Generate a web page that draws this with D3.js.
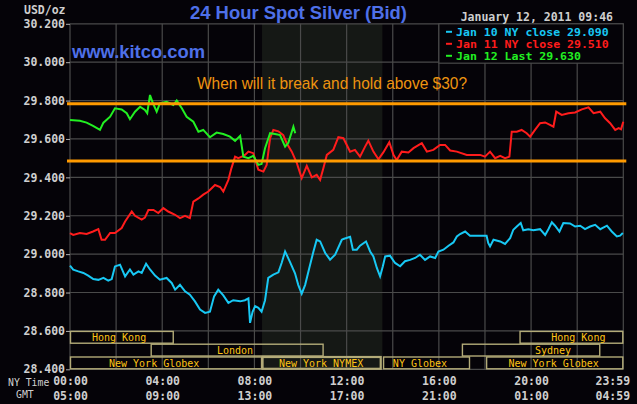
<!DOCTYPE html>
<html>
<head>
<meta charset="utf-8">
<script src="https://cdn.jsdelivr.net/npm/d3@7"></script>
<style>
  body { margin: 0; background: #050308; }
  svg { display: block; }
</style>
</head>
<body>
<div id="chart"></div>
<script>
// 24 hour spot silver (hours NY time / USD per oz)

var blueTime = [0, 0.14, 0.36, 0.58, 0.79, 1.01, 1.23, 1.45, 1.66, 1.81, 1.95, 2.17, 2.39, 2.6, 2.75, 2.97, 3.11, 3.3, 3.47, 3.69, 3.9, 4.19, 4.41, 4.56, 4.77, 4.99, 5.2, 5.42, 5.64, 5.86, 6.07, 6.25, 6.43, 6.65, 6.87, 7.08, 7.38, 7.59, 7.74, 7.81, 7.92, 8.03, 8.17, 8.31, 8.46, 8.6, 8.82, 9.04, 9.18, 9.33, 9.54, 9.76, 9.9, 10.05, 10.2, 10.38, 10.56, 10.7, 10.85, 11.07, 11.28, 11.5, 11.79, 11.86, 12.15, 12.27, 12.44, 12.58, 12.84, 13.02, 13.16, 13.31, 13.45, 13.57, 13.67, 13.88, 14.1, 14.32, 14.53, 14.75, 14.97, 15.18, 15.4, 15.62, 15.84, 15.98, 16.2, 16.42, 16.63, 16.78, 16.92, 17.14, 17.35, 17.64, 18.07, 18.14, 18.22, 18.37, 18.66, 18.87, 19.09, 19.23, 19.38, 19.55, 19.66, 19.88, 20.1, 20.39, 20.61, 20.75, 20.9, 21.04, 21.23, 21.4, 21.69, 21.91, 22.13, 22.34, 22.56, 22.78, 23.0, 23.29, 23.5, 23.72, 23.86, 23.98];
var blueValue = [28.94, 28.919, 28.91, 28.902, 28.888, 28.87, 28.866, 28.876, 28.862, 28.87, 28.936, 28.945, 28.884, 28.92, 28.893, 28.91, 28.902, 28.95, 28.92, 28.888, 28.867, 28.876, 28.85, 28.815, 28.84, 28.806, 28.789, 28.754, 28.711, 28.694, 28.7, 28.78, 28.815, 28.785, 28.746, 28.76, 28.754, 28.76, 28.77, 28.642, 28.7, 28.729, 28.72, 28.7, 28.76, 28.876, 28.893, 28.905, 28.954, 29.014, 28.96, 28.9, 28.84, 28.794, 28.84, 28.928, 29.014, 29.075, 29.066, 29.006, 28.971, 28.997, 29.075, 29.079, 29.09, 29.023, 29.023, 29.044, 29.066, 29.014, 28.988, 28.928, 28.884, 28.937, 28.988, 28.992, 28.954, 28.937, 28.963, 28.97, 28.98, 28.997, 28.97, 28.988, 28.98, 29.014, 29.023, 29.044, 29.061, 29.092, 29.105, 29.118, 29.096, 29.096, 29.096, 29.058, 29.04, 29.075, 29.066, 29.053, 29.083, 29.127, 29.144, 29.162, 29.124, 29.13, 29.124, 29.13, 29.1, 29.13, 29.166, 29.148, 29.118, 29.162, 29.16, 29.144, 29.148, 29.13, 29.144, 29.153, 29.13, 29.148, 29.118, 29.092, 29.096, 29.11];

var redTime = [0, 0.14, 0.43, 0.72, 1.0, 1.23, 1.37, 1.52, 1.74, 1.95, 2.24, 2.39, 2.68, 2.82, 3.11, 3.25, 3.4, 3.62, 3.83, 4.05, 4.26, 4.56, 4.77, 4.99, 5.2, 5.35, 5.57, 5.78, 6.0, 6.29, 6.51, 6.65, 6.87, 7.0, 7.16, 7.3, 7.45, 7.59, 7.74, 7.95, 8.17, 8.39, 8.53, 8.68, 8.82, 9.04, 9.25, 9.4, 9.62, 9.84, 10.05, 10.27, 10.49, 10.7, 10.85, 10.99, 11.14, 11.42, 11.64, 11.86, 12.15, 12.36, 12.58, 12.8, 12.94, 13.16, 13.38, 13.59, 13.85, 14.03, 14.17, 14.39, 14.68, 14.9, 15.26, 15.48, 15.76, 16.05, 16.27, 16.49, 16.78, 17.21, 17.79, 18.0, 18.22, 18.44, 18.66, 18.87, 19.06, 19.16, 19.38, 19.59, 19.81, 19.96, 20.17, 20.39, 20.61, 20.82, 20.97, 21.09, 21.33, 21.62, 21.91, 22.2, 22.49, 22.71, 23.0, 23.21, 23.43, 23.65, 23.8, 23.9, 24.0];
var redValue = [29.11, 29.1, 29.11, 29.105, 29.118, 29.13, 29.075, 29.075, 29.11, 29.11, 29.136, 29.17, 29.222, 29.2, 29.18, 29.19, 29.23, 29.23, 29.214, 29.24, 29.222, 29.205, 29.188, 29.2, 29.188, 29.274, 29.29, 29.31, 29.326, 29.36, 29.35, 29.326, 29.387, 29.447, 29.508, 29.5, 29.508, 29.517, 29.534, 29.526, 29.44, 29.43, 29.465, 29.604, 29.647, 29.64, 29.62, 29.578, 29.534, 29.474, 29.396, 29.46, 29.4, 29.413, 29.387, 29.447, 29.517, 29.543, 29.609, 29.604, 29.534, 29.543, 29.508, 29.56, 29.591, 29.534, 29.494, 29.53, 29.583, 29.517, 29.49, 29.534, 29.53, 29.552, 29.578, 29.534, 29.543, 29.569, 29.569, 29.54, 29.534, 29.517, 29.517, 29.508, 29.534, 29.5, 29.512, 29.5, 29.508, 29.638, 29.638, 29.647, 29.63, 29.612, 29.647, 29.682, 29.686, 29.673, 29.664, 29.742, 29.725, 29.734, 29.738, 29.754, 29.765, 29.734, 29.742, 29.708, 29.682, 29.647, 29.656, 29.65, 29.69];

var greenTime = [0, 0.43, 0.72, 1.0, 1.3, 1.45, 1.74, 1.95, 2.24, 2.46, 2.6, 2.82, 3.04, 3.25, 3.35, 3.47, 3.6, 3.76, 3.9, 4.19, 4.48, 4.63, 4.85, 5.06, 5.35, 5.57, 5.78, 6.07, 6.36, 6.65, 6.94, 7.16, 7.38, 7.52, 7.74, 7.95, 8.17, 8.31, 8.46, 8.68, 8.89, 9.11, 9.33, 9.47, 9.69, 9.77];
var greenValue = [29.699, 29.695, 29.685, 29.668, 29.647, 29.685, 29.716, 29.76, 29.754, 29.734, 29.703, 29.742, 29.768, 29.751, 29.734, 29.829, 29.786, 29.742, 29.785, 29.794, 29.777, 29.8, 29.76, 29.716, 29.69, 29.638, 29.647, 29.609, 29.633, 29.626, 29.612, 29.59, 29.616, 29.508, 29.5, 29.512, 29.465, 29.47, 29.552, 29.63, 29.626, 29.62, 29.56, 29.58, 29.664, 29.63];

var yTicks = [28.4, 28.6, 28.8, 29.0, 29.2, 29.4, 29.6, 29.8, 30.0, 30.2];
var labelHours = [0, 4, 8, 12, 16, 20, 24];
var nyLabels = ["00:00", "04:00", "08:00", "12:00", "16:00", "20:00", "23:59"];
var gmtLabels = ["05:00", "09:00", "13:00", "17:00", "21:00", "01:00", "04:59"];

var legendText = ["Jan 10 NY close 29.090", "Jan 11 NY close 29.510", "Jan 12 Last 29.630"];
var legendColor = ["#18c8f4", "#ff1c1c", "#22f022"];

// market sessions: name, open, close, row (0 top), where the label sits
var sessionName = ["Hong Kong", "London", "New York Globex", "New York NYMEX", "NY Globex", "Sydney", "New York Globex", "Hong Kong"];
var sessionOpen = [0, 3.5, 0, 8.33, 13.58, 17.0, 18.05, 19.5];
var sessionClose = [4.5, 11.0, 8.33, 13.5, 17.35, 23.0, 24, 24];
var sessionRow = [0, 1, 2, 2, 2, 1, 2, 0];
var sessionLabelAt = [2.13, 7.16, 3.65, 10.89, 15.18, 20.95, 20.98, 22.05];

var nymexHours = [8.33, 13.55];
var userLevels = [29.783, 29.485];

var mono = "'DejaVu Sans Mono', monospace";
var sans = "'Liberation Sans', Arial, sans-serif";
var charW = 6.94; // width of one character in the kitco pixel font

var svg = d3.select("#chart").append("svg")
    .attr("width", 637)
    .attr("height", 404)
    .style("background", "#050308");

var x = d3.scaleLinear().domain([0, 24]).range([70, 623.3]);
var y = d3.scaleLinear().domain([28.4, 30.2]).range([369.3, 23.8]);

// shaded NYMEX hours
svg.append("rect")
    .attr("x", x(nymexHours[0]))
    .attr("y", y(30.2))
    .attr("width", x(nymexHours[1]) - x(nymexHours[0]))
    .attr("height", y(28.4) - y(30.2))
    .attr("fill", "#151815");

// grid
var grid = svg.append("g").attr("stroke", "#4a4a4a").attr("stroke-width", 1.2);
grid.selectAll("line.v")
    .data(d3.range(0, 25, 2))
    .enter().append("line")
      .attr("x1", function (d) { return x(d); })
      .attr("x2", function (d) { return x(d); })
      .attr("y1", y(30.2))
      .attr("y2", y(28.4));
grid.selectAll("line.h")
    .data(yTicks)
    .enter().append("line")
      .attr("x1", x(0))
      .attr("x2", x(24))
      .attr("y1", function (d) { return y(d); })
      .attr("y2", function (d) { return y(d); });

// y axis
var yAxis = svg.append("g")
    .attr("transform", "translate(" + x(0) + ",0)")
    .call(d3.axisLeft(y).tickValues(yTicks).tickFormat(d3.format(".3f")).tickSize(4).tickPadding(1));
yAxis.select(".domain").remove();
yAxis.selectAll("line").attr("stroke", "#b0b0b0");
yAxis.selectAll("text")
    .attr("fill", "#cfcfcf")
    .style("font-family", mono)
    .style("font-weight", "bold")
    .style("font-size", "11.5px");

svg.append("text")
    .attr("x", 24).attr("y", 14)
    .attr("fill", "#cfcfcf")
    .style("font-family", mono).style("font-weight", "bold").style("font-size", "11.5px")
    .text("USD/oz");

// x axis, two rows of time labels
function timeRow(labels, baseline) {
  var g = svg.append("g")
      .attr("transform", "translate(0," + baseline + ")")
      .call(d3.axisBottom(x).tickValues(labelHours).tickFormat(function (d, i) { return labels[i]; }).tickSize(0));
  g.select(".domain").remove();
  g.selectAll("text")
      .attr("y", 0).attr("dy", null)
      .attr("fill", "#cfcfcf")
      .style("font-family", mono)
      .style("font-weight", "bold")
      .style("font-size", "11.5px");
  g.selectAll("text").filter(function (d, i) { return i === labelHours.length - 1; })
      .attr("dx", -11);
}
timeRow(nyLabels, 384.5);
timeRow(gmtLabels, 400);

svg.append("text").attr("x", 8).attr("y", 385.5)
    .attr("fill", "#cfcfcf").style("font-family", mono).style("font-size", "9.8px")
    .text("NY Time");
svg.append("text").attr("x", 16).attr("y", 398)
    .attr("fill", "#cfcfcf").style("font-family", mono).style("font-size", "9.8px")
    .text("GMT");

// session boxes along the bottom
var rowH = (y(28.4) - y(28.6)) / 3;
var sessions = sessionName.map(function (n, i) {
  return { name: n, open: sessionOpen[i], close: sessionClose[i], row: sessionRow[i], at: sessionLabelAt[i] };
});
var sg = svg.append("g");
sg.selectAll("rect")
    .data(sessions)
    .enter().append("rect")
      .attr("x", function (d) { return x(d.open) + 0.5; })
      .attr("y", function (d) { return y(28.6) + d.row * rowH + 0.5; })
      .attr("width", function (d) { return x(d.close) - x(d.open) - 1; })
      .attr("height", rowH - 1)
      .attr("fill", "none")
      .attr("stroke", "#b3ab78")
      .attr("stroke-width", function (d) { return d.name === "New York NYMEX" ? 2.2 : 1.4; });
sg.selectAll("text")
    .data(sessions)
    .enter().append("text")
      .attr("x", function (d) { return x(d.at); })
      .attr("y", function (d) { return y(28.6) + (d.row + 1) * rowH - 2.3; })
      .attr("text-anchor", "middle")
      .attr("fill", "#ffc414")
      .style("font-family", mono)
      .style("font-size", "10px")
      .text(function (d) { return d.name; });

// legend box
svg.append("rect")
    .attr("x", x(16)).attr("y", y(30.2))
    .attr("width", x(24) - x(16)).attr("height", y(30.0) - y(30.2) + 1)
    .attr("fill", "#050308")
    .attr("stroke", "#4a4a4a").attr("stroke-width", 1.2);
var lg = svg.append("g");
legendText.forEach(function (t, i) {
  lg.append("line")
      .attr("x1", 446).attr("x2", 452)
      .attr("y1", 31.8 + i * 12).attr("y2", 31.8 + i * 12)
      .attr("stroke", legendColor[i]).attr("stroke-width", 2);
  lg.append("text")
      .attr("x", 456).attr("y", 35.8 + i * 12)
      .attr("fill", legendColor[i])
      .attr("textLength", t.length * charW)
      .attr("lengthAdjust", "spacingAndGlyphs")
      .style("font-family", mono).style("font-weight", "bold").style("font-size", "10.2px")
      .text(t);
});

svg.append("text")
    .attr("x", 613).attr("y", 20.5)
    .attr("text-anchor", "end")
    .attr("fill", "#cfcfcf")
    .style("font-family", mono).style("font-weight", "bold").style("font-size", "11.5px")
    .text("January 12, 2011 09:46");

// price lines
var line = d3.line()
    .x(function (d) { return x(d[0]); })
    .y(function (d) { return y(d[1]); });

var series = [
  { t: blueTime, v: blueValue, c: legendColor[0] },
  { t: redTime, v: redValue, c: legendColor[1] },
  { t: greenTime, v: greenValue, c: legendColor[2] }
];
series.forEach(function (s) {
  svg.append("path")
      .datum(d3.zip(s.t, s.v))
      .attr("d", line)
      .attr("fill", "none")
      .attr("stroke", s.c)
      .attr("stroke-width", 2)
      .attr("stroke-linejoin", "miter");
});

// hand drawn levels
svg.selectAll("line.level")
    .data(userLevels)
    .enter().append("line")
      .attr("x1", x.range()[0] - 3)
      .attr("x2", x.range()[1] + 3)
      .attr("y1", function (d) { return y(d); })
      .attr("y2", function (d) { return y(d); })
      .attr("stroke", "#ff9a00")
      .attr("stroke-width", 3);

// titles
svg.append("text")
    .attr("x", 190).attr("y", 18.7)
    .attr("fill", "#4e70e8")
    .attr("textLength", 217)
    .attr("lengthAdjust", "spacingAndGlyphs")
    .style("font-family", sans).style("font-weight", "bold").style("font-size", "18px")
    .text("24 Hour Spot Silver (Bid)");

svg.append("text")
    .attr("x", 72).attr("y", 58.3)
    .attr("fill", "#4e70e8")
    .attr("textLength", 133)
    .attr("lengthAdjust", "spacingAndGlyphs")
    .style("font-family", sans).style("font-weight", "bold").style("font-size", "18px")
    .text("www.kitco.com");

svg.append("text")
    .attr("x", 197).attr("y", 89.3)
    .attr("fill", "#ee9410")
    .attr("textLength", 270)
    .attr("lengthAdjust", "spacingAndGlyphs")
    .style("font-family", sans).style("font-size", "17px")
    .text("When will it break and hold above $30?");
</script>
</body>
</html>
